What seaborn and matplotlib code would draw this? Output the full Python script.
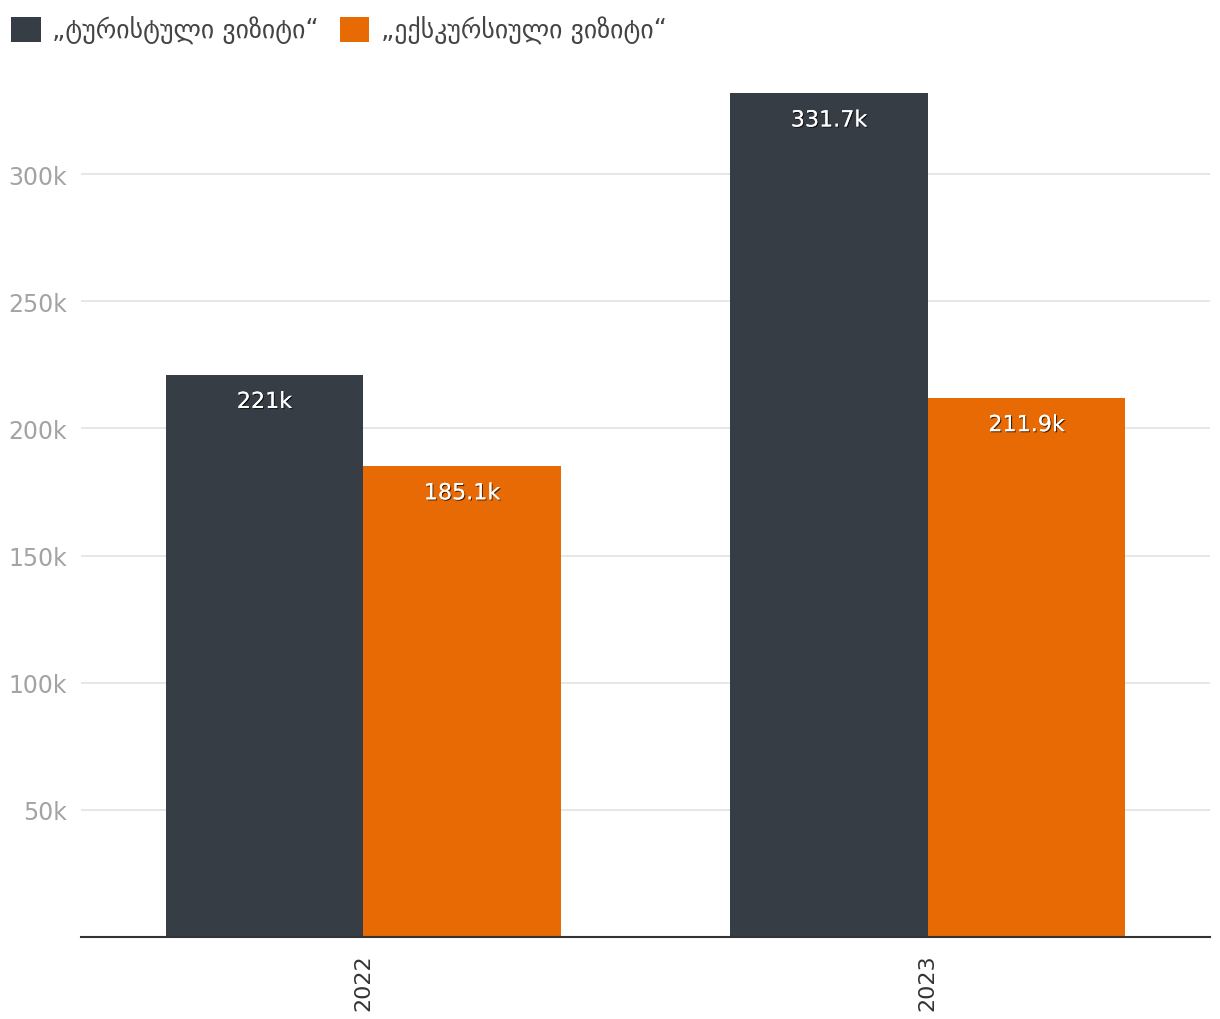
import matplotlib
matplotlib.use("Agg")
import matplotlib.pyplot as plt
import matplotlib.patheffects as pe
from matplotlib.patches import Patch
import seaborn as sns
import pandas as pd

years = ["2022", "2023"]
series_names = ["„ტურისტული ვიზიტი“", "„ექსკურსიული ვიზიტი“"]
tourist_visits = [221000, 331700]
excursion_visits = [185100, 211900]
colors = ["#373d45", "#e86a04"]
yticks = [50000, 100000, 150000, 200000, 250000, 300000]
ytick_labels = ["50k", "100k", "150k", "200k", "250k", "300k"]

df = pd.DataFrame({
    "year": years * 2,
    "series": [series_names[0]] * 2 + [series_names[1]] * 2,
    "value": tourist_visits + excursion_visits,
})

sns.set_theme(style="white")
plt.rcParams["font.family"] = ["DejaVu Sans"]

fig = plt.figure(figsize=(12.2, 10.2), dpi=100)
ax = fig.add_axes([81 / 1220, 82 / 1020, 1129 / 1220, 852 / 1020])

sns.barplot(data=df, x="year", y="value", hue="series", hue_order=series_names,
            palette=colors, width=0.7, saturation=1, ax=ax, legend=False,
            edgecolor="none", linewidth=0)

ax.set_xlim(-0.5, 1.5)
ax.set_ylim(0, 335000)
ax.set_yticks(yticks)
ax.set_yticklabels(ytick_labels, fontsize=17, color="#a3a3a3")
ax.yaxis.grid(True, color="#e3e3e3", linewidth=1.2)
ax.set_axisbelow(True)
ax.tick_params(axis="y", length=0, pad=10)
ax.tick_params(axis="x", length=0, pad=12)
for lbl in ax.get_xticklabels():
    lbl.set_rotation(90)
    lbl.set_fontsize(16)
    lbl.set_color("#333333")
    lbl.set_va("top")
ax.set_xlabel("")
ax.set_ylabel("")
for s in ["top", "right", "left"]:
    ax.spines[s].set_visible(False)
ax.spines["bottom"].set_color("#333333")
ax.spines["bottom"].set_linewidth(1.5)

def fmt(v):
    s = f"{v / 1000:.1f}"
    if s.endswith(".0"):
        s = s[:-2]
    return s + "k"

effects = [pe.withSimplePatchShadow(offset=(0.8, -0.8), shadow_rgbFace="black", alpha=0.7),
           pe.Normal()]
for cont in ax.containers:
    for bar in cont:
        h = bar.get_height()
        ax.annotate(fmt(h), (bar.get_x() + bar.get_width() / 2, h),
                    xytext=(0, -19.5), textcoords="offset points",
                    ha="center", va="center", color="white", fontsize=16,
                    path_effects=effects)

handles = [Patch(facecolor=c, edgecolor="none") for c in colors]
fig.legend(handles, series_names, loc="upper left", bbox_to_anchor=(-0.0065, 1.002),
           ncol=2, frameon=False, fontsize=18.5, labelcolor="#444444",
           handlelength=1.15, handleheight=1.15, handletextpad=0.45,
           columnspacing=0.8, borderaxespad=0.35)

fig.savefig("out.png", dpi=100)
